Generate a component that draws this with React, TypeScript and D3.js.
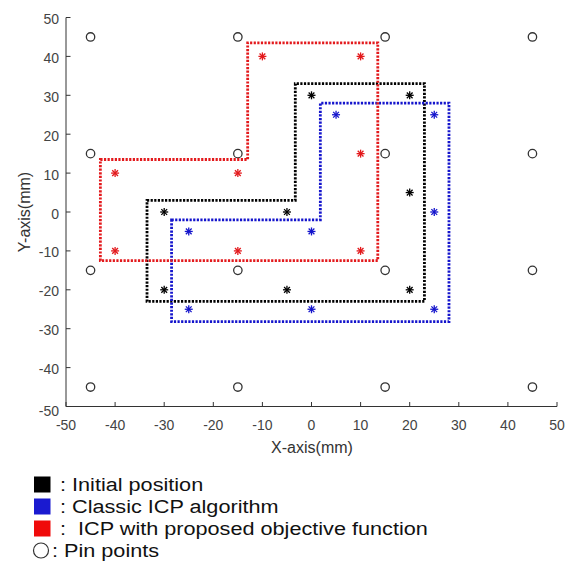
import React from "react";
import * as d3 from "d3";

const xTicks = [-50, -40, -30, -20, -10, 0, 10, 20, 30, 40, 50];
const yTicks = [-50, -40, -30, -20, -10, 0, 10, 20, 30, 40, 50];

// Pin points (circles)
const pinX = [-45, -15, 15, 45];
const pinY = [45, 15, -15, -45];

// Outline polygons (x, y in mm)
const initialOutline: [number, number][] = [
  [-33.5, 3], [-3.3, 3], [-3.3, 33], [23, 33], [23, -23], [-33.5, -23],
];
const classicOutline: [number, number][] = [
  [-28.5, -2], [1.8, -2], [1.8, 28], [28, 28], [28, -28.2], [-28.5, -28.2],
];
const proposedOutline: [number, number][] = [
  [-43, 13.5], [-13, 13.5], [-13, 43.5], [13.5, 43.5], [13.5, -12.5], [-43, -12.5],
];

// Star markers
const initialStars: [number, number][] = [
  [-30, 0], [-5, 0], [-30, -20], [-5, -20], [0, 30], [20, 30], [20, 5], [20, -20],
];
const classicStars: [number, number][] = [
  [-25, -5], [0, -5], [-25, -25], [0, -25], [5, 25], [25, 25], [25, 0], [25, -25],
];
const proposedStars: [number, number][] = [
  [-40, 10], [-15, 10], [-40, -10], [-15, -10], [-10, 40], [10, 40], [10, 15], [10, -10],
];

const legendLabels = [
  ": Initial position",
  ": Classic ICP algorithm",
  ":  ICP with proposed objective function",
  ": Pin points",
];

const FONT = "'Liberation Sans', Arial, Helvetica, sans-serif";

const series = [
  { outline: initialOutline, stars: initialStars, color: "#000000" },
  { outline: classicOutline, stars: classicStars, color: "#1414cc" },
  { outline: proposedOutline, stars: proposedStars, color: "#e3191c" },
];

function Star({ cx, cy, color }: { cx: number; cy: number; color: string }) {
  const r = 4;
  const d = r * 0.72;
  return (
    <g stroke={color} strokeWidth={1.3}>
      <line x1={cx - r} y1={cy} x2={cx + r} y2={cy} />
      <line x1={cx} y1={cy - r} x2={cx} y2={cy + r} />
      <line x1={cx - d} y1={cy - d} x2={cx + d} y2={cy + d} />
      <line x1={cx - d} y1={cy + d} x2={cx + d} y2={cy - d} />
    </g>
  );
}

export default function App() {
  const x = d3.scaleLinear().domain([-50, 50]).range([66, 557]);
  const y = d3.scaleLinear().domain([-50, 50]).range([406.5, 17.5]);
  const line = d3
    .line<[number, number]>()
    .x((d) => x(d[0]))
    .y((d) => y(d[1]))
    .curve(d3.curveLinearClosed);

  const legendColors = ["#000000", "#1a1ad0", "#f00a0a"];
  const legendY = [484.5, 506.5, 528.5, 550.5];

  return (
    <svg
      width={566}
      height={574}
      style={{ position: "absolute", left: 0, top: 0, background: "#fff" }}
      fontFamily={FONT}
    >
      {/* axes */}
      <line x1={x(-50)} y1={y(-50)} x2={x(50)} y2={y(-50)} stroke="#333" strokeWidth={1} />
      <line x1={x(-50)} y1={y(-50)} x2={x(-50)} y2={y(50)} stroke="#333" strokeWidth={1} />
      {xTicks.map((t) => (
        <g key={"xt" + t}>
          <line x1={x(t)} x2={x(t)} y1={y(-50)} y2={y(-50) - 4.5} stroke="#333" strokeWidth={1} />
          <text x={x(t)} y={429.5} textAnchor="middle" fontSize={14} fill="#444">
            {t}
          </text>
        </g>
      ))}
      {yTicks.map((t) => (
        <g key={"yt" + t}>
          <line x1={x(-50)} x2={x(-50) + 4.5} y1={y(t)} y2={y(t)} stroke="#333" strokeWidth={1} />
          <text
            x={59}
            y={y(t) + (t === -50 ? 4 : 1.5)}
            textAnchor="end"
            dominantBaseline="central"
            fontSize={14}
            fill="#444"
          >
            {t}
          </text>
        </g>
      ))}
      <text x={312} y={453} textAnchor="middle" fontSize={16} fill="#333">
        X-axis(mm)
      </text>
      <text
        transform={`translate(30,${y(0)}) rotate(-90)`}
        textAnchor="middle"
        fontSize={16}
        fill="#333"
      >
        Y-axis(mm)
      </text>

      {/* pin points */}
      {pinY.map((py) =>
        pinX.map((px) => (
          <circle
            key={`p${px}_${py}`}
            cx={x(px)}
            cy={y(py)}
            r={4.2}
            fill="none"
            stroke="#333"
            strokeWidth={1.3}
          />
        ))
      )}

      {/* outlines */}
      {series.map((s, i) => (
        <path
          key={"o" + i}
          d={line(s.outline) || ""}
          fill="none"
          stroke={s.color}
          strokeWidth={2.8}
          strokeDasharray="2.2 1.4"
        />
      ))}
      {series.map((s, i) => (
        <g key={"s" + i}>
          {s.stars.map((p, j) => (
            <Star key={j} cx={x(p[0])} cy={y(p[1])} color={s.color} />
          ))}
        </g>
      ))}

      {/* legend */}
      {legendColors.map((c, i) => (
        <rect key={"lr" + i} x={34} y={legendY[i] - 8} width={16.5} height={16} fill={c} />
      ))}
      <circle cx={41} cy={legendY[3]} r={7.5} fill="none" stroke="#333" strokeWidth={1.2} />
      {legendLabels.map((l, i) => (
        <g key={"lt" + i} transform={`translate(${i === 3 ? 52 : 60},${legendY[i]}) scale(1.14,1)`}>
          <text
            x={0}
            y={0}
            dominantBaseline="central"
            fontSize={19}
            fill="#111"
            style={{ whiteSpace: "pre" }}
          >
            {l}
          </text>
        </g>
      ))}
    </svg>
  );
}
